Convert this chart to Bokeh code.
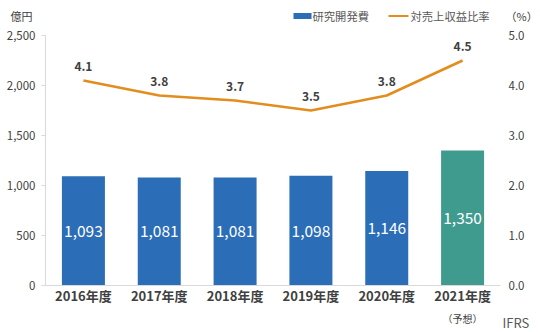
from bokeh.plotting import figure
from bokeh.layouts import column
from bokeh.models import (Range1d, LinearAxis, FixedTicker, NumeralTickFormatter,
                          ColumnDataSource)
from bokeh.core.properties import value
from bokeh.embed import file_html
from bokeh.resources import INLINE

years = ["2016年度", "2017年度", "2018年度", "2019年度", "2020年度", "2021年度"]
rd_cost = [1093, 1081, 1081, 1098, 1146, 1350]
ratio = [4.1, 3.8, 3.7, 3.5, 3.8, 4.5]
left_ticks = [0, 500, 1000, 1500, 2000, 2500]
right_ticks = [0, 1, 2, 3, 4, 5]
legend_labels = ["研究開発費", "対売上収益比率"]

FONT = "Noto Sans CJK JP"
BLUE = "#2B6DB7"
TEAL = "#409B8F"
ORANGE = "#E38D1F"
GRAY = "#404040"
LGRAY = "#595959"
AXIS = "#D9D9D9"

xs = list(range(len(years)))
fmt_vals = [f"{v:,}" for v in rd_cost]
ratio_txt = [f"{v:.1f}" for v in ratio]

FL, FR = 45, 500  # frame edges (pixels), shared by all stacked figures
TOP_H = 24


def strip(h):
    f = figure(width=540, height=h, output_backend="svg", toolbar_location=None,
               x_range=Range1d(FL, FR), y_range=Range1d(h, 0),
               min_border_left=FL, min_border_right=540 - FR,
               min_border_top=0, min_border_bottom=0,
               x_axis_location=None, y_axis_location=None)
    f.outline_line_color = None
    f.xgrid.visible = False
    f.ygrid.visible = False
    return f


def side_label(f, side, ypos, text, size, color, standoff):
    ax = LinearAxis(ticker=FixedTicker(ticks=[ypos]),
                    major_label_overrides={ypos: text})
    ax.axis_line_color = None
    ax.major_tick_line_color = None
    ax.minor_tick_line_color = None
    ax.major_tick_out = 0
    ax.major_tick_in = 0
    ax.major_label_standoff = standoff
    ax.major_label_text_font = FONT
    ax.major_label_text_font_size = size
    ax.major_label_text_color = color
    f.add_layout(ax, side)


def txt(f, x, y, s, size, color, align="left", style="normal"):
    f.text(x=[x], y=[y], text=[s], text_font=value(FONT), text_font_size=size,
           text_color=color, text_align=align, text_baseline="middle",
           text_font_style=style)


# ---- top strip: unit labels + legend ----
top = strip(TOP_H)
side_label(top, "left", 15, "億円", "11px", GRAY, 13)
side_label(top, "right", 15, "（%）", "11px", GRAY, 5)
top.rect(x=[302], y=[15.5], width=18, height=6, fill_color=BLUE, line_color=None)
txt(top, 312, 15, legend_labels[0], "11.3px", LGRAY)
top.line(x=[388, 408], y=[15.5, 15.5], line_color=ORANGE, line_width=2.2)
txt(top, 410, 15, legend_labels[1], "11.3px", LGRAY)

# ---- main chart ----
p = figure(width=540, height=287, output_backend="svg", toolbar_location=None,
           x_range=Range1d(-0.5, 5.5), y_range=Range1d(0, 2500),
           min_border_left=FL, min_border_right=540 - FR, min_border_top=35 - TOP_H,
           min_border_bottom=26)
p.outline_line_color = None
p.xgrid.visible = False
p.ygrid.visible = False
p.extra_y_ranges = {"pct": Range1d(0, 5)}

blue_src = ColumnDataSource(dict(x=xs[:5], top=rd_cost[:5],
                                 mid=[v / 2 for v in rd_cost[:5]], lab=fmt_vals[:5]))
teal_src = ColumnDataSource(dict(x=xs[5:], top=rd_cost[5:],
                                 mid=[v / 2 for v in rd_cost[5:]], lab=fmt_vals[5:]))

p.vbar(x="x", top="top", width=0.567, source=blue_src, fill_color=BLUE, line_color=None)
p.vbar(x="x", top="top", width=0.567, source=teal_src, fill_color=TEAL, line_color=None)

for src in (blue_src, teal_src):
    p.text(x="x", y="mid", text="lab", source=src, text_color="white",
           text_font=value(FONT), text_font_size="15.5px", text_align="center",
           text_baseline="middle")

line_src = ColumnDataSource(dict(x=xs, y=ratio, lab=ratio_txt))
p.line(x="x", y="y", source=line_src, line_color=ORANGE, line_width=2.6, y_range_name="pct")
p.text(x="x", y="y", text="lab", source=line_src, y_range_name="pct", text_color=GRAY,
       text_font=value(FONT), text_font_size="12px", text_font_style="bold",
       text_align="center", text_baseline="bottom", y_offset=-10)

yax = p.yaxis[0]
yax.ticker = FixedTicker(ticks=left_ticks)
yax.formatter = NumeralTickFormatter(format="0,0")
yax.axis_line_color = AXIS
yax.major_tick_line_color = AXIS
yax.major_tick_out = 4
yax.major_tick_in = 0
yax.minor_tick_line_color = None
yax.major_label_text_font = FONT
yax.major_label_text_font_size = "11.5px"
yax.major_label_text_color = GRAY
yax.major_label_standoff = 6

xax = p.xaxis[0]
xax.ticker = FixedTicker(ticks=xs)
xax.major_label_overrides = {i: y for i, y in enumerate(years)}
xax.axis_line_color = AXIS
xax.major_tick_line_color = None
xax.minor_tick_line_color = None
xax.major_tick_out = 0
xax.major_tick_in = 0
xax.major_label_text_font = FONT
xax.major_label_text_font_size = "13px"
xax.major_label_text_font_style = "bold"
xax.major_label_text_color = GRAY
xax.major_label_standoff = 0

rax = LinearAxis(y_range_name="pct", ticker=FixedTicker(ticks=right_ticks),
                 formatter=NumeralTickFormatter(format="0.0"))
rax.axis_line_color = None
rax.major_tick_line_color = None
rax.minor_tick_line_color = None
rax.major_tick_out = 0
rax.major_tick_in = 0
rax.major_label_text_font = FONT
rax.major_label_text_font_size = "11.5px"
rax.major_label_text_color = GRAY
rax.major_label_standoff = 8
p.add_layout(rax, "right")

# ---- bottom strip: forecast note + IFRS ----
bot = strip(21)
txt(bot, 462, 7, "（予想）", "10px", GRAY, "center")
side_label(bot, "right", 11, "IFRS", "13px", LGRAY, 2)

layout = column(top, p, bot, spacing=0)
open("out.html", "w").write(file_html(layout, INLINE))
